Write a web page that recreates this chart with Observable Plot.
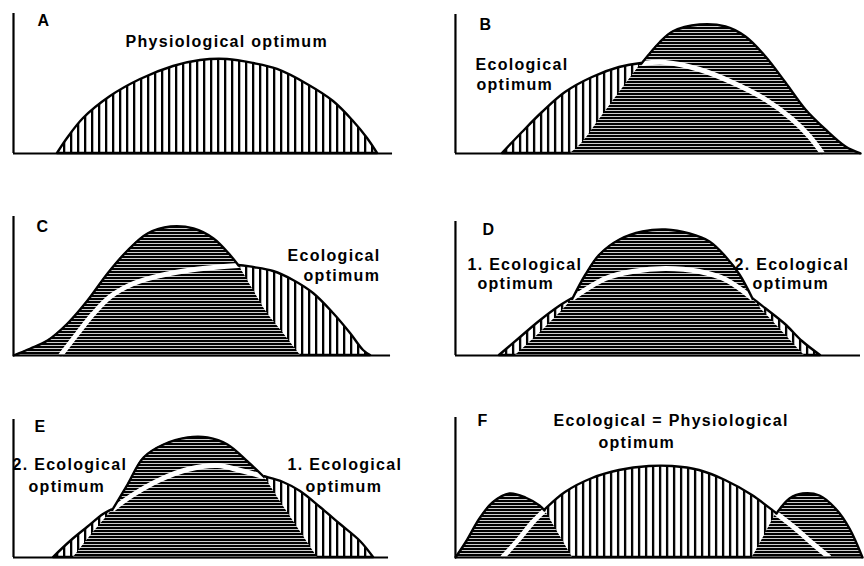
<!DOCTYPE html>
<html><head><meta charset="utf-8">
<script src="https://cdn.jsdelivr.net/npm/d3@7"></script>
<script src="https://cdn.jsdelivr.net/npm/@observablehq/plot@0.6"></script>
<style>body{margin:0;background:#fff}</style>
</head><body><div id="chart"></div>
<script>
// Panels and their place in the 2 x 3 grid
const panels = ["A", "B", "C", "D", "E", "F"];
const panelCol = [0, 1, 0, 1, 0, 1];
const panelRow = [0, 0, 1, 1, 2, 2];
// extent of the environmental gradient axis and of the performance axis per panel
const gradientEnd = [379, 405, 377, 405, 375, 407];
const performanceTop = [140, 139, 139, 134, 138, 140];

// Physiological response curve of the species (vertical hatching)
const physA_x = [44, 54, 70, 97, 127, 160, 187, 214, 240, 264, 294, 320, 340, 354, 364];
const physA_y = [0, 15, 35, 57, 74, 87, 93, 94, 90, 84, 69, 52, 32, 15, 0];
const physB_x = [47, 67, 87, 110, 137, 164, 186, 210, 244, 277, 310, 337, 354, 367];
const physB_y = [0, 21, 41, 61, 76, 86, 90, 91, 84, 71, 54, 34, 17, 0];
const physC_x = [47, 64, 80, 97, 120, 147, 174, 200, 225, 240, 260, 280, 300, 320, 337, 350, 357];
const physC_y = [0, 22, 42, 59, 72, 80, 85, 88, 90, 88, 84, 75, 62, 42, 22, 5, 0];
const physD_x = [44, 64, 84, 104, 117, 150, 177, 210, 244, 270, 297, 310, 330, 347, 365];
const physD_y = [0, 17, 34, 49, 57, 77, 84, 87, 84, 76, 57, 47, 31, 14, 0];
const physE_x = [40, 57, 74, 90, 99, 120, 147, 174, 204, 227, 250, 270, 287, 307, 327, 347, 360];
const physE_y = [0, 16, 30, 43, 48, 63, 78, 88, 92, 87, 81, 75, 66, 50, 33, 16, 0];
const physF_x = [47, 64, 77, 89, 110, 137, 164, 194, 217, 244, 270, 297, 321, 340, 357, 374];
const physF_y = [0, 19, 35, 47, 65, 79, 87, 91, 91, 87, 77, 62, 44, 29, 14, 0];

// Competitor response curves (horizontal hatching)
const compB_x = [115, 127, 144, 164, 186, 204, 217, 244, 270, 290, 310, 330, 350, 370, 390, 405];
const compB_y = [0, 11, 34, 61, 90, 111, 122, 129, 127, 117, 97, 71, 44, 24, 7, 0];
const compC_x = [0, 17, 34, 54, 74, 94, 114, 134, 157, 180, 200, 217, 225, 240, 254, 270, 287];
const compC_y = [0, 7, 15, 32, 55, 82, 105, 122, 129, 127, 117, 100, 90, 65, 42, 22, 0];
const compD_x = [60, 90, 117, 130, 144, 164, 187, 210, 234, 254, 270, 284, 297, 323, 349];
const compD_y = [0, 28, 57, 81, 101, 116, 124, 126, 122, 114, 99, 81, 57, 28, 0];
const compE_x = [60, 79, 99, 114, 130, 150, 174, 194, 214, 234, 250, 268, 286, 304];
const compE_y = [0, 24, 48, 73, 100, 113, 120, 120, 113, 96, 81, 54, 27, 0];
const compF1_x = [0, 10, 24, 37, 54, 70, 84, 89, 103, 117];
const compF1_y = [0, 15, 39, 55, 64, 60, 52, 47, 24, 0];
const compF2_x = [297, 309, 321, 334, 347, 364, 380, 394, 407];
const compF2_y = [0, 22, 44, 59, 64, 62, 49, 29, 0];

// Stretches of the physiological curve that lie under a competitor (white line)
const hiddenA = [];
const hiddenB = [[186, 367]];
const hiddenC = [[47, 225]];
const hiddenD = [[117, 297]];
const hiddenE = [[99, 250]];
const hiddenF = [[47, 89], [321, 374]];
// Stretches of the competitor curves that rise above the physiological curve (outlined)
const exposedA = [];
const exposedB = [[186, 405]];
const exposedC = [[0, 225]];
const exposedD = [[117, 297]];
const exposedE = [[99, 250]];
const exposedF = [[0, 89], [321, 407]];

// Labels
const labelPanel = ["A", "A", "B", "B", "B", "C", "C", "C", "D", "D", "D", "D", "D",
  "E", "E", "E", "E", "E", "F", "F", "F"];
const labelText = ["A", "Physiological optimum", "B", "Ecological", "optimum",
  "C", "Ecological", "optimum", "D", "1. Ecological", "optimum", "2. Ecological", "optimum",
  "E", "2. Ecological", "optimum", "1. Ecological", "optimum",
  "F", "Ecological = Physiological", "optimum"];
const labelX = [24, 112, 24, 20, 21, 23, 274, 290, 27, 12, 22, 279, 297, 21, -1, 15, 274, 292, 22, 98, 143];
const labelY = [127, 106, 123, 83, 63, 124, 95, 75, 121, 86, 66, 86, 66, 126, 88, 66, 88, 66, 132, 132, 110];

// ---- build tables ----
function series(panel, xs, ys, key) {
  const i = panels.indexOf(panel);
  return xs.map((x, j) => ({panel, col: panelCol[i], row: panelRow[i], x, y: ys[j], key: panel + key}));
}
const physSets = {A: [physA_x, physA_y], B: [physB_x, physB_y], C: [physC_x, physC_y],
  D: [physD_x, physD_y], E: [physE_x, physE_y], F: [physF_x, physF_y]};
const hiddenSets = {A: hiddenA, B: hiddenB, C: hiddenC, D: hiddenD, E: hiddenE, F: hiddenF};
const exposedSets = {A: exposedA, B: exposedB, C: exposedC, D: exposedD, E: exposedE, F: exposedF};
const phys = panels.flatMap(p => series(p, physSets[p][0], physSets[p][1], "p"));
const comp = [
  ...series("B", compB_x, compB_y, "c"),
  ...series("C", compC_x, compC_y, "c"),
  ...series("D", compD_x, compD_y, "c"),
  ...series("E", compE_x, compE_y, "c"),
  ...series("F", compF1_x, compF1_y, "c1"),
  ...series("F", compF2_x, compF2_y, "c2")
];
const white = panels.flatMap(p => hiddenSets[p].flatMap(([a, b], k) =>
  series(p, physSets[p][0], physSets[p][1], "w" + k).filter(d => d.x >= a && d.x <= b)));
const compOutline = panels.flatMap(p => exposedSets[p].flatMap(([a, b], k) =>
  comp.filter(d => d.panel === p && d.x >= a && d.x <= b).map(d => ({...d, key: d.key + "o" + k}))));
const frames = panels.map((p, i) => ({panel: p, col: panelCol[i], row: panelRow[i], end: gradientEnd[i], top: performanceTop[i]}));
const labels = labelText.map((t, i) => {
  const k = panels.indexOf(labelPanel[i]);
  return {text: t, x: labelX[i], y: labelY[i], col: panelCol[k], row: panelRow[k]};
});

const font = "'Liberation Sans', Arial, Helvetica, sans-serif";
const curve = "catmull-rom";
const chart = Plot.plot({
  width: 864, height: 566,
  marginLeft: 13, marginRight: 2, marginTop: 12, marginBottom: 9,
  x: {domain: [0, 407], axis: null},
  y: {domain: [0, 141], axis: null},
  fx: {domain: [0, 1], axis: null, paddingInner: 0.079, paddingOuter: 0, round: false},
  fy: {domain: [0, 1, 2], axis: null, paddingInner: 0.302, paddingOuter: 0, round: false},
  style: {fontFamily: font, background: "white", letterSpacing: "1.3px"},
  marks: [
    Plot.areaY(phys, {x: "x", y: "y", z: "key", fx: "col", fy: "row", fill: "url(#vhatch)",
      stroke: "black", strokeWidth: 2.4, curve}),
    Plot.areaY(comp, {x: "x", y: "y", z: "key", fx: "col", fy: "row", fill: "url(#hhatch)", curve}),
    Plot.line(white, {x: "x", y: "y", z: "key", fx: "col", fy: "row", stroke: "white",
      strokeWidth: 5, strokeLinecap: "butt", curve}),
    Plot.line(compOutline, {x: "x", y: "y", z: "key", fx: "col", fy: "row", stroke: "black",
      strokeWidth: 2.4, curve}),
    Plot.ruleY(frames, {y: 0, x1: 0, x2: "end", fx: "col", fy: "row", stroke: "black", strokeWidth: 2.2}),
    Plot.ruleX(frames, {x: 0, y1: 0, y2: "top", fx: "col", fy: "row", stroke: "black", strokeWidth: 2.2}),
    Plot.text(labels, {x: "x", y: "y", text: "text", fx: "col", fy: "row", textAnchor: "start",
      lineAnchor: "bottom", fontSize: 16, fontWeight: "bold", fontFamily: font, fill: "black"})
  ]
});

const defs = document.createElementNS("http://www.w3.org/2000/svg", "defs");
defs.innerHTML =
  '<pattern id="vhatch" patternUnits="userSpaceOnUse" width="7" height="7">' +
  '<rect width="7" height="7" fill="white"/><rect x="0" y="0" width="2.3" height="7" fill="black"/></pattern>' +
  '<pattern id="hhatch" patternUnits="userSpaceOnUse" width="8" height="3">' +
  '<rect width="8" height="3" fill="white"/><rect x="0" y="0" width="8" height="2.2" fill="black"/></pattern>';
chart.insertBefore(defs, chart.firstChild);
document.getElementById("chart").appendChild(chart);
</script>
</body></html>
